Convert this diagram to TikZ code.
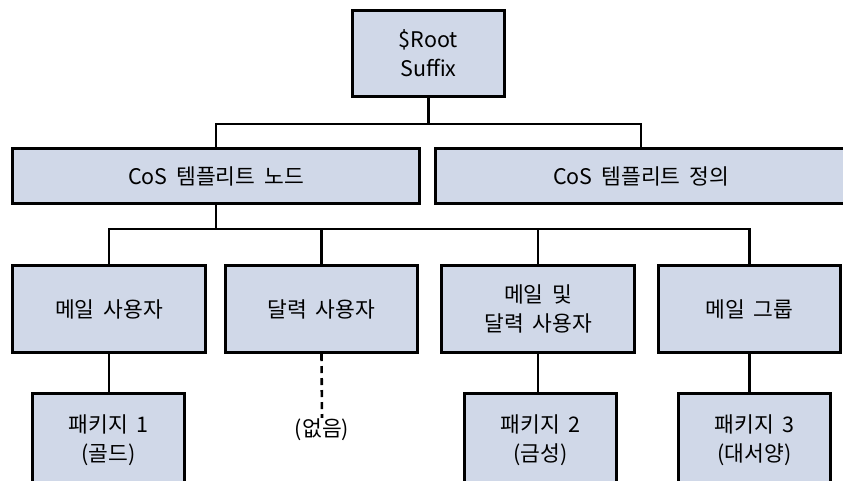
\documentclass[tikz,border=0pt]{standalone}
\usepackage{fontspec}
\setmainfont[WordSpace=1.8]{Noto Sans CJK KR}
\usetikzlibrary{positioning}
\definecolor{boxColor}{RGB}{208,216,232}

\begin{document}
\begin{tikzpicture}[x=1pt,y=-1pt,
  box/.style={draw=black, line width=3pt, fill=boxColor, align=center, inner sep=0pt,
    font=\fontsize{21.5}{29}\selectfont},
  link/.style={line width=2.6pt},
  none/.style={font=\fontsize{21.5}{29}\selectfont, inner sep=1pt},
]
\path[use as bounding box, clip] (0,0) rectangle (843,480);

\node [box, minimum width=152pt, minimum height=86pt] (root) at (428.5,53.5) {\$Root\\Suffix};

\node [box, minimum width=407pt, minimum height=55pt] (tmplNode) at (216,176) {CoS 템플리트 노드};
\node [box, minimum width=411pt, minimum height=55pt] (tmplDef) at (641,176) {CoS 템플리트 정의};

\node [box, minimum width=193pt, minimum height=87pt] (mailUser) at (109,309) {메일 사용자};
\node [box, minimum width=192pt, minimum height=87pt] (calUser) at (321.5,309) {달력 사용자};
\node [box, minimum width=193pt, minimum height=87pt] (bothUser) at (538,309) {메일 및\\달력 사용자};
\node [box, minimum width=182pt, minimum height=87pt] (mailGroup) at (749.5,309) {메일 그룹};

\node [box, minimum width=152pt, minimum height=94pt] (pkgOne) at (108.5,440) {패키지 1\\(골드)};
\node [none] (noPkg) at (322,430) {(없음)};
\node [box, minimum width=152pt, minimum height=94pt] (pkgTwo) at (540.5,440) {패키지 2\\(금성)};
\node [box, minimum width=152pt, minimum height=94pt] (pkgThree) at (754.5,440) {패키지 3\\(대서양)};

\coordinate (barTop) at (428.5,124);
\coordinate (barMid) at (216,229);

\draw [link] (root.south) -- (barTop);
\draw [link] (tmplNode.north) |- (barTop) -| (tmplDef.north);
\draw [link] (tmplNode.south) -- (barMid);
\draw [link] (mailUser.north) |- (barMid) -| (calUser.north);
\draw [link] (barMid) -| (bothUser.north);
\draw [link] (barMid) -| (mailGroup.north);

\draw [link] (mailUser.south) -- (mailUser.south |- pkgOne.north);
\draw [link, dash pattern=on 7pt off 5pt] (calUser.south) -- (noPkg.north);
\draw [link] (bothUser.south) -- (bothUser.south |- pkgTwo.north);
\draw [link] (mailGroup.south) -- (mailGroup.south |- pkgThree.north);
\end{tikzpicture}
\end{document}
